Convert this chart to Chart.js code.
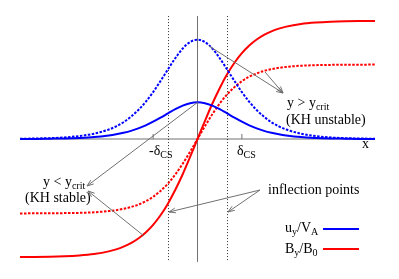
<!DOCTYPE html>
<html>
<head>
<meta charset="utf-8">
<script src="https://cdn.jsdelivr.net/npm/chart.js@4.4.0/dist/chart.umd.min.js"></script>
<style>
  html, body { margin: 0; padding: 0; background: #fff; }
  canvas { display: block; }
</style>
</head>
<body>
<canvas id="kh" width="399" height="279"></canvas>
<script>
// x in units of delta_CS
const xs = [-6, -5.5, -5, -4.5, -4, -3.5, -3, -2.75, -2.5, -2.25, -2, -1.75, -1.5, -1.25, -1, -0.75, -0.5, -0.25,
  0, 0.25, 0.5, 0.75, 1, 1.25, 1.5, 1.75, 2, 2.25, 2.5, 2.75, 3, 3.5, 4, 4.5, 5, 5.5, 6];

// u_y/V_A, y < y_crit (solid) and y > y_crit (dotted)
const uyStable = [0.001, 0.001, 0.003, 0.005, 0.009, 0.016, 0.030, 0.040, 0.053, 0.069, 0.090, 0.116, 0.147, 0.181, 0.217, 0.253, 0.283, 0.303,
  0.31, 0.303, 0.283, 0.253, 0.217, 0.181, 0.147, 0.116, 0.090, 0.069, 0.053, 0.040, 0.030, 0.016, 0.009, 0.005, 0.003, 0.001, 0.001];
const uyUnstable = [0.002, 0.004, 0.007, 0.013, 0.025, 0.045, 0.080, 0.107, 0.142, 0.188, 0.245, 0.315, 0.397, 0.491, 0.589, 0.684, 0.766, 0.821,
  0.84, 0.821, 0.766, 0.684, 0.589, 0.491, 0.397, 0.315, 0.245, 0.188, 0.142, 0.107, 0.080, 0.045, 0.025, 0.013, 0.007, 0.004, 0.002];

// B_y/B_0
const byStable = [-0.999, -0.998, -0.996, -0.992, -0.985, -0.973, -0.951, -0.934, -0.911, -0.881, -0.842, -0.791, -0.726, -0.645, -0.547, -0.430, -0.298, -0.152,
  0, 0.152, 0.298, 0.430, 0.547, 0.645, 0.726, 0.791, 0.842, 0.881, 0.911, 0.934, 0.951, 0.973, 0.985, 0.992, 0.996, 0.998, 0.999];
const byUnstable = [-0.630, -0.629, -0.629, -0.627, -0.625, -0.620, -0.610, -0.602, -0.591, -0.576, -0.555, -0.527, -0.489, -0.439, -0.377, -0.300, -0.209, -0.108,
  0, 0.108, 0.209, 0.300, 0.377, 0.439, 0.489, 0.527, 0.555, 0.576, 0.591, 0.602, 0.610, 0.620, 0.625, 0.627, 0.629, 0.629, 0.630];

const deltaCS = 1;      // dotted vertical lines
const tickAt = 1.5;     // small ticks with the -δCS / δCS labels

const BLUE = "#0000ff";
const RED = "#ff0000";
const GREY = "#707070";
const SERIF = "Liberation Serif";

function pts(ys) {
  return xs.map((x, i) => ({ x: x, y: ys[i] }));
}

function line(ctx, x1, y1, x2, y2) {
  ctx.beginPath();
  ctx.moveTo(x1, y1);
  ctx.lineTo(x2, y2);
  ctx.stroke();
}

function arrow(ctx, x1, y1, x2, y2) {
  line(ctx, x1, y1, x2, y2);
  const a = Math.atan2(y2 - y1, x2 - x1);
  const L = 7, w = 0.35;
  line(ctx, x2, y2, x2 - L * Math.cos(a - w), y2 - L * Math.sin(a - w));
  line(ctx, x2, y2, x2 - L * Math.cos(a + w), y2 - L * Math.sin(a + w));
}

// text with subscripts: parts = [[str, isSub], ...]
function richText(ctx, parts, x, y) {
  let cx = x;
  parts.forEach(([s, sub]) => {
    ctx.font = (sub ? "10px " : "14px ") + SERIF;
    ctx.fillText(s, cx, sub ? y + 3 : y);
    cx += ctx.measureText(s).width;
  });
}

const decor = {
  id: "decor",
  beforeDatasetsDraw(chart) {
    const { ctx, scales: { x, y } } = chart;
    ctx.save();
    ctx.lineWidth = 1;
    ctx.strokeStyle = GREY;
    // axis
    line(ctx, x.getPixelForValue(-6), y.getPixelForValue(0), x.getPixelForValue(6), y.getPixelForValue(0));
    line(ctx, x.getPixelForValue(0), y.getPixelForValue(1.04), x.getPixelForValue(0), y.getPixelForValue(-1.04));
    // ticks
    [-tickAt, tickAt].forEach(t => {
      line(ctx, x.getPixelForValue(t), y.getPixelForValue(0), x.getPixelForValue(t), y.getPixelForValue(0) - 5);
    });
    // delta_CS dotted lines
    ctx.strokeStyle = "#333";
    ctx.setLineDash([1, 2]);
    [-deltaCS, deltaCS].forEach(d => {
      const px = Math.round(x.getPixelForValue(d)) + 0.5;
      line(ctx, px, y.getPixelForValue(1.04), px, y.getPixelForValue(-1.04));
    });
    ctx.restore();
  },
  afterDatasetsDraw(chart) {
    const { ctx } = chart;
    ctx.save();
    ctx.strokeStyle = GREY;
    ctx.lineWidth = 1;
    // KH unstable arrows
    arrow(ctx, 209, 46, 283, 93);
    arrow(ctx, 265, 72, 283, 93);
    // KH stable arrows
    arrow(ctx, 198, 102, 87, 186);
    arrow(ctx, 144, 236, 88, 191);
    // inflection points
    arrow(ctx, 260, 190, 169, 212);
    arrow(ctx, 260, 190, 228, 212);

    ctx.fillStyle = "#000";
    ctx.textBaseline = "alphabetic";
    richText(ctx, [["y > y", false], ["crit", true]], 287, 107);
    richText(ctx, [["(KH unstable)", false]], 286, 124);
    richText(ctx, [["y < y", false], ["crit", true]], 43, 186);
    richText(ctx, [["(KH stable)", false]], 25, 202);
    richText(ctx, [["inflection points", false]], 268, 194);
    richText(ctx, [["-\u03b4", false], ["CS", true]], 149, 155);
    richText(ctx, [["\u03b4", false], ["CS", true]], 237, 155);
    richText(ctx, [["x", false]], 362, 148);

    // legend
    richText(ctx, [["u", false], ["y", true], ["/V", false], ["A", true]], 285, 232);
    richText(ctx, [["B", false], ["y", true], ["/B", false], ["0", true]], 285, 253);
    ctx.lineWidth = 2;
    ctx.strokeStyle = BLUE;
    line(ctx, 323, 229, 359, 229);
    ctx.strokeStyle = RED;
    line(ctx, 323, 249, 359, 249);
    ctx.restore();
  }
};

const common = { pointRadius: 0, borderWidth: 2, fill: false, cubicInterpolationMode: "monotone" };

new Chart(document.getElementById("kh").getContext("2d"), {
  type: "line",
  data: {
    datasets: [
      { ...common, label: "u_y/V_A (y > y_crit)", data: pts(uyUnstable), borderColor: BLUE, borderDash: [2.5, 1.5] },
      { ...common, label: "u_y/V_A (y < y_crit)", data: pts(uyStable), borderColor: BLUE },
      { ...common, label: "B_y/B_0 (y > y_crit)", data: pts(byUnstable), borderColor: RED, borderDash: [2.5, 1.5] },
      { ...common, label: "B_y/B_0 (y < y_crit)", data: pts(byStable), borderColor: RED },
    ],
  },
  options: {
    responsive: false,
    animation: false,
    layout: { padding: { left: 20, right: 24, top: 9, bottom: 10 } },
    plugins: { legend: { display: false }, tooltip: { enabled: false } },
    scales: {
      x: { type: "linear", min: -6, max: 6, display: false },
      y: { min: -1.1, max: 1.1, display: false },
    },
  },
  plugins: [decor],
});
</script>
</body>
</html>
